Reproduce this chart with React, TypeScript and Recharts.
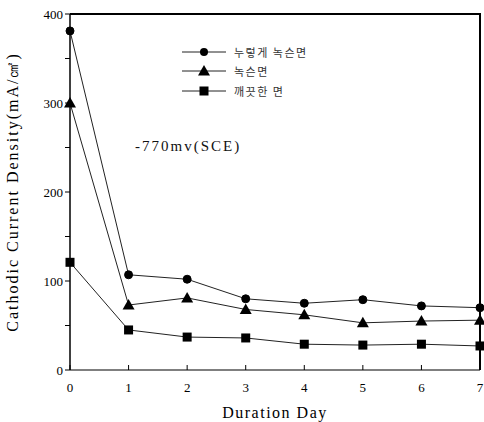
import { LineChart, Line, XAxis, YAxis } from 'recharts'

const days = [0, 1, 2, 3, 4, 5, 6, 7]
const yellowRusted = [381, 107, 102, 80, 75, 79, 72, 70]
const rusted = [300, 73, 81, 68, 62, 53, 55, 56]
const clean = [121, 45, 37, 36, 29, 28, 29, 27]

const yTicks = [0, 50, 100, 150, 200, 250, 300, 350, 400]

const SERIES_NAMES = ['누렇게 녹슨면', '녹슨면', '깨끗한 면']

const data = days.map((d, i) => ({
  day: d,
  yellow: yellowRusted[i],
  rusted: rusted[i],
  clean: clean[i],
}))

const SERIF = '"Liberation Serif", "DejaVu Serif", serif'

function Triangle(props: any) {
  const { cx, cy } = props
  if (cx == null || cy == null) return null
  return <polygon points={`${cx},${cy - 6} ${cx - 6},${cy + 4.5} ${cx + 6},${cy + 4.5}`} fill="#000" />
}

function Square(props: any) {
  const { cx, cy } = props
  if (cx == null || cy == null) return null
  return <rect x={cx - 4.5} y={cy - 4.5} width={9} height={9} fill="#000" />
}

function Marker({ kind, x, y }: { kind: number; x: number; y: number }) {
  if (kind === 0) return <circle cx={x} cy={y} r={4} fill="#000" />
  if (kind === 1) return <Triangle cx={x} cy={y} />
  return <Square cx={x} cy={y} />
}

function LegendBox() {
  return (
    <div style={{ position: 'absolute', left: 180, top: 42 }}>
      {SERIES_NAMES.map((name, i) => (
        <div key={name} style={{ display: 'flex', alignItems: 'center', height: 19.5 }}>
          <svg width={48} height={14}>
            <line x1={2} y1={7} x2={46} y2={7} stroke="#222" strokeWidth={1} />
            <Marker kind={i} x={24} y={7} />
          </svg>
          <span
            style={{
              marginLeft: 6,
              fontFamily: '"Noto Sans CJK KR", sans-serif',
              fontSize: 11,
              color: '#333',
              letterSpacing: 1.5,
            }}
          >
            {name}
          </span>
        </div>
      ))}
    </div>
  )
}

export default function App() {
  return (
    <div style={{ position: 'fixed', left: 0, top: 0, width: 484, height: 422, background: '#fff' }}>
      <LineChart width={484} height={422} data={data} margin={{ top: 14, right: 4, left: 0, bottom: 22 }}>
        <XAxis
          dataKey="day"
          type="number"
          domain={[0, 7]}
          ticks={days}
          height={30}
          axisLine={{ stroke: '#000', strokeWidth: 1.2 }}
          tickLine={{ stroke: '#000' }}
          tickSize={-5}
          tickMargin={18}
          tick={{ fill: '#000', fontSize: 13, fontFamily: SERIF }}
          label={{
            value: 'Duration Day',
            position: 'insideBottom',
            offset: -18,
            style: { fill: '#000', fontSize: 16, fontFamily: SERIF, letterSpacing: 1.5 },
          }}
        />
        <YAxis
          type="number"
          domain={[0, 400]}
          ticks={yTicks}
          width={70}
          axisLine={{ stroke: '#000', strokeWidth: 1.5 }}
          tickLine={{ stroke: '#000' }}
          tickSize={5}
          tickFormatter={(v: number) => (v % 100 === 0 ? String(v) : '')}
          tick={{ fill: '#000', fontSize: 13, fontFamily: SERIF }}
          label={{
            value: 'Cathodic Current Density(mA/㎠)',
            angle: -90,
            position: 'insideLeft',
            offset: 12,
            style: { textAnchor: 'middle', fill: '#000', fontSize: 16, fontFamily: SERIF, letterSpacing: 2 },
          }}
        />
        <Line
          dataKey="yellow"
          stroke="#222"
          strokeWidth={1}
          dot={{ r: 4, fill: '#000', stroke: '#000' }}
          isAnimationActive={false}
        />
        <Line dataKey="rusted" stroke="#222" strokeWidth={1} dot={<Triangle />} isAnimationActive={false} />
        <Line dataKey="clean" stroke="#222" strokeWidth={1} dot={<Square />} isAnimationActive={false} />
      </LineChart>
      <LegendBox />
      <div
        style={{
          position: 'absolute',
          left: 135,
          top: 138,
          fontFamily: SERIF,
          fontSize: 15,
          color: '#111',
          letterSpacing: 2,
        }}
      >
        -770mv(SCE)
      </div>
      {/* top and right edges of the plot frame */}
      <div
        style={{
          position: 'absolute',
          left: 70,
          top: 13,
          width: 411,
          height: 357,
          borderTop: '2px solid #000',
          borderRight: '2px solid #000',
          boxSizing: 'border-box',
          zIndex: 5,
          pointerEvents: 'none',
        }}
      />
    </div>
  )
}
